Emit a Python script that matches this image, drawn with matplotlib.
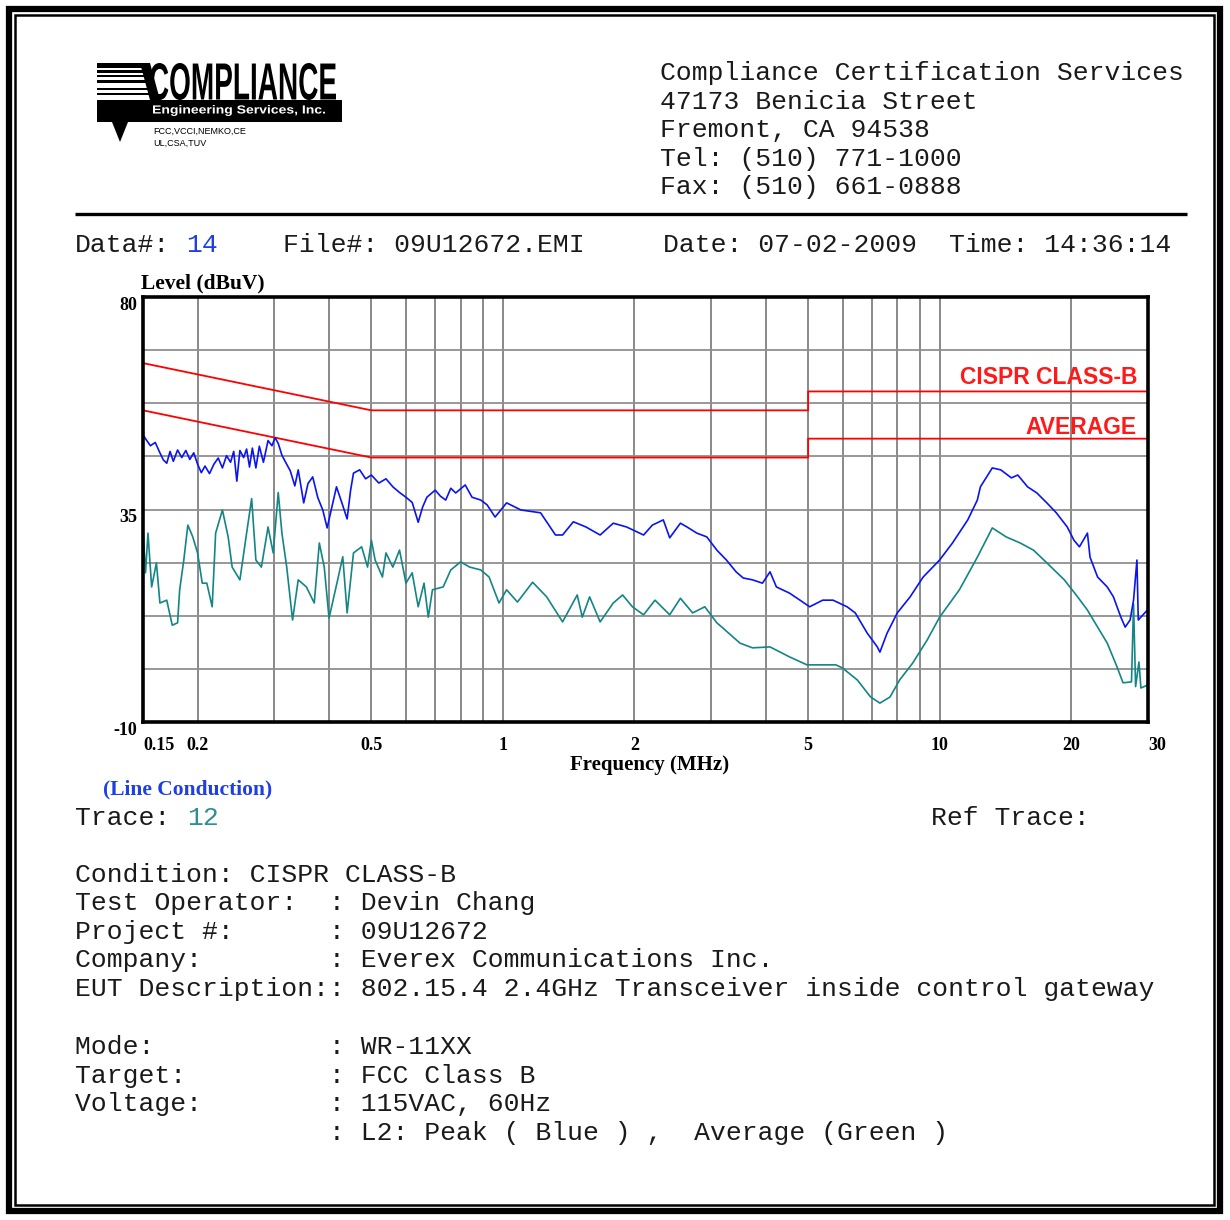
import matplotlib
matplotlib.use('Agg')
import matplotlib.pyplot as plt
from matplotlib.patches import Rectangle, Polygon, PathPatch
from matplotlib.textpath import TextPath
from matplotlib.font_manager import FontProperties
from matplotlib.transforms import Affine2D

# ---- data (MHz, dBuV) ----
peak_freq = [0.150, 0.153, 0.156, 0.160, 0.164, 0.167, 0.170, 0.173, 0.176, 0.180,
             0.184, 0.188, 0.192, 0.196, 0.200, 0.204, 0.208, 0.213, 0.218, 0.223,
             0.228, 0.233, 0.238, 0.242, 0.246, 0.250, 0.255, 0.259, 0.263, 0.267,
             0.272, 0.277, 0.283, 0.290, 0.296, 0.301, 0.306, 0.312, 0.319, 0.326,
             0.334, 0.340, 0.350, 0.358, 0.367, 0.377, 0.387, 0.396, 0.406, 0.416,
             0.428, 0.440, 0.448, 0.455, 0.470, 0.485, 0.500, 0.520, 0.540, 0.560,
             0.580, 0.600, 0.620, 0.640, 0.655, 0.670, 0.700, 0.720, 0.740, 0.760,
             0.780, 0.820, 0.850, 0.890, 0.920, 0.960, 1.02, 1.10, 1.22, 1.32,
             1.37, 1.45, 1.55, 1.67, 1.79, 1.92, 2.10, 2.20, 2.33, 2.41,
             2.55, 2.64, 2.78, 2.93, 3.09, 3.25, 3.42, 3.55, 3.73, 3.93,
             4.09, 4.23, 4.53, 4.79, 5.04, 5.40, 5.70, 6.14, 6.41, 6.83,
             7.20, 7.30, 7.58, 8.00, 8.56, 9.17, 10.0, 10.7, 11.6, 12.2,
             12.4, 13.2, 13.8, 14.6, 15.1, 15.9, 16.7, 17.6, 18.5, 19.6,
             20.3, 20.9, 21.8, 22.1, 23.0, 24.2, 25.0, 26.0, 26.6, 27.3,
             27.8, 28.3, 28.5, 29.9]
peak_level = [50.8, 49.6, 48.5, 49.2, 47.0, 45.5, 44.8, 47.3, 45.2, 47.6,
              46.0, 47.5, 45.6, 47.0, 44.6, 42.8, 44.2, 42.6, 44.6, 45.9,
              43.8, 46.4, 45.0, 47.3, 41.0, 47.5, 46.0, 47.8, 44.0, 48.0,
              43.8, 48.4, 45.0, 49.6, 48.5, 50.2, 49.0, 46.5, 44.8, 43.2,
              40.0, 43.4, 36.4, 40.5, 41.9, 37.5, 34.9, 31.1, 35.5, 39.8,
              36.4, 33.0, 39.0, 42.7, 43.4, 41.5, 42.3, 40.6, 41.5, 39.8,
              38.6, 37.6, 36.5, 32.3, 35.5, 37.6, 39.1, 37.8, 37.0, 39.5,
              38.5, 40.2, 37.6, 37.0, 36.0, 33.4, 36.4, 34.9, 34.3, 29.6,
              29.6, 32.4, 31.3, 29.6, 32.1, 31.3, 29.6, 31.7, 32.8, 29.0,
              32.1, 31.3, 30.0, 29.2, 26.4, 24.3, 21.8, 20.5, 20.1, 19.4,
              21.8, 18.6, 17.3, 15.8, 14.4, 15.8, 15.8, 14.4, 13.1, 8.8,
              5.9, 4.8, 8.8, 13.1, 16.5, 20.7, 24.3, 27.9, 32.8, 37.0,
              39.8, 43.8, 43.4, 41.7, 42.3, 39.8, 38.5, 36.4, 34.3, 31.3,
              28.5, 27.1, 30.0, 24.9, 20.7, 18.6, 16.5, 12.2, 10.1, 11.6,
              15.8, 24.3, 11.6, 13.7]

avg_freq = [0.150, 0.152, 0.154, 0.157, 0.161, 0.164, 0.170, 0.175, 0.180, 0.182,
            0.186, 0.190, 0.195, 0.200, 0.205, 0.210, 0.216, 0.220, 0.228, 0.235,
            0.240, 0.250, 0.259, 0.266, 0.272, 0.280, 0.290, 0.298, 0.306, 0.312,
            0.320, 0.330, 0.340, 0.355, 0.370, 0.380, 0.390, 0.400, 0.420, 0.430,
            0.440, 0.455, 0.475, 0.490, 0.500, 0.510, 0.530, 0.540, 0.560, 0.580,
            0.600, 0.620, 0.640, 0.660, 0.675, 0.690, 0.730, 0.760, 0.800, 0.840,
            0.890, 0.930, 0.980, 1.02, 1.08, 1.17, 1.26, 1.37, 1.48, 1.52,
            1.58, 1.67, 1.79, 1.88, 1.98, 2.10, 2.23, 2.41, 2.55, 2.72,
            2.90, 3.09, 3.19, 3.49, 3.73, 4.09, 4.53, 4.97, 5.79, 6.00,
            6.48, 6.95, 7.30, 7.70, 8.10, 8.68, 9.37, 10.0, 11.1, 12.2,
            13.2, 14.2, 15.3, 16.4, 17.6, 19.3, 20.7, 21.8, 23.0, 24.2,
            25.5, 26.3, 27.5, 27.8, 28.1, 28.6, 28.9, 29.9]
avg_level = [30.7, 21.6, 30.0, 18.6, 23.7, 15.2, 15.8, 10.5, 11.0, 18.0,
             24.3, 31.7, 29.2, 25.8, 19.4, 19.4, 14.4, 30.0, 34.9, 29.2,
             22.8, 20.1, 30.0, 37.3, 24.3, 22.8, 31.3, 25.8, 38.6, 30.0,
             22.8, 11.6, 20.1, 18.6, 15.2, 27.9, 22.8, 12.0, 20.7, 25.0,
             13.1, 25.8, 27.1, 22.8, 28.5, 24.3, 20.7, 25.8, 22.8, 26.4,
             19.4, 21.6, 14.4, 19.4, 12.2, 18.0, 18.6, 22.2, 23.9, 22.8,
             22.2, 20.7, 15.2, 18.0, 15.4, 19.6, 16.5, 11.2, 16.9, 12.2,
             16.5, 11.2, 15.2, 16.9, 14.4, 12.7, 15.8, 12.7, 16.2, 13.1,
             14.4, 11.0, 9.9, 6.7, 5.7, 5.9, 3.8, 2.1, 2.1, 1.4,
             -1.1, -4.7, -6.0, -4.7, -1.1, 2.5, 7.4, 12.2, 18.0, 24.9,
             31.1, 29.2, 27.9, 26.4, 23.7, 20.1, 16.5, 13.7, 10.1, 6.7,
             1.6, -1.7, -1.5, 15.0, -2.5, 2.7, -2.8, -2.2]

# CISPR 22 class B limits
qp_freq = [0.15, 0.5, 5.0, 5.0, 30.0]
qp_limit = [66, 56, 56, 60, 60]
av_freq = [0.15, 0.5, 5.0, 5.0, 30.0]
av_limit = [56, 46, 46, 50, 50]

freq_ticks = [0.15, 0.2, 0.5, 1, 2, 5, 10, 20, 30]
freq_labels = ['0.15', '0.2', '0.5', '1', '2', '5', '10', '20', '30']
freq_grid = [0.2, 0.3, 0.4, 0.5, 0.6, 0.7, 0.8, 0.9, 1, 2, 3, 4, 5, 6, 7, 8, 9, 10, 20]
level_grid = [-10, 1.25, 12.5, 23.75, 35, 46.25, 57.5, 68.75, 80]
level_ticks = [-10, 35, 80]

header = ['Compliance Certification Services', '47173 Benicia Street',
          'Fremont, CA 94538', 'Tel: (510) 771-1000', 'Fax: (510) 661-0888']
info1 = [('Test Operator:', 'Devin Chang'), ('Project #:', '09U12672'),
         ('Company:', 'Everex Communications Inc.'),
         ('EUT Description:', '802.15.4 2.4GHz Transceiver inside control gateway')]
info2 = [('Mode:', 'WR-11XX'), ('Target:', 'FCC Class B'), ('Voltage:', '115VAC, 60Hz'),
         ('', 'L2: Peak ( Blue ) ,  Average (Green )')]

W, H = 1230, 1220
fig = plt.figure(figsize=(W / 100, H / 100), dpi=100)

# page layer in pixel coords (y down)
bg = fig.add_axes([0, 0, 1, 1])
bg.set_xlim(0, W)
bg.set_ylim(H, 0)
bg.axis('off')

bg.add_patch(Rectangle((9, 9), W - 19, H - 18, fill=False, lw=4.5, ec='black'))
bg.add_patch(Rectangle((15, 15), W - 31, H - 30, fill=False, lw=1.8, ec='black'))
bg.plot([75, 1187], [214, 214], color='black', lw=2.4, solid_capstyle='butt')

mono = 'Liberation Mono'
fs = 19
txt = '#1a1a1a'
serif = 'Liberation Serif'

# logo
for y0, y1 in [(63, 68), (70, 72.5), (75, 77), (80, 82.5), (88, 90), (93, 95)]:
    bg.add_patch(Rectangle((97, y0), 52, y1 - y0, color='black', lw=0))
bg.add_patch(Polygon([(140, 63), (150, 63), (160, 100), (150, 100)], color='black', lw=0))
bg.add_patch(Rectangle((97, 100), 245, 22, color='black', lw=0))
bg.add_patch(Polygon([(112, 122), (128, 122), (120, 142)], color='black', lw=0))
tp = TextPath((0, 0), 'COMPLIANCE', size=1, prop=FontProperties(family='Liberation Sans', weight='bold'))
ext = tp.get_extents()
tr = Affine2D().translate(-ext.x0, -ext.y0).scale(186 / ext.width, -37 / ext.height).translate(150, 100)
bg.add_patch(PathPatch(tr.transform_path(tp), color='black', lw=0))
tp2 = TextPath((0, 0), 'Engineering Services, Inc.', size=1, prop=FontProperties(family='Liberation Sans', weight='bold'))
ext2 = tp2.get_extents()
tr2 = Affine2D().translate(-ext2.x0, -ext2.y0).scale(172 / ext2.width, -11 / ext2.height).translate(153, 116)
bg.add_patch(PathPatch(tr2.transform_path(tp2), color='white', lw=0))
bg.text(153, 131, 'FCC,VCCI,NEMKO,CE', fontsize=6.5, family='Liberation Sans', va='center')
bg.text(153, 143, 'UL,CSA,TUV', fontsize=6.5, family='Liberation Sans', va='center')

for i, line in enumerate(header):
    bg.text(660, 73 + i * 28.6, line, family=mono, fontsize=fs, va='center', color=txt)

bg.text(75, 245, 'Data#:', family=mono, fontsize=fs, va='center', color=txt)
bg.text(186, 245, '14', family=mono, fontsize=fs, va='center', color='#1f3fe0')
bg.text(283, 245, 'File#: 09U12672.EMI', family=mono, fontsize=fs, va='center', color=txt)
bg.text(663, 245, 'Date: 07-02-2009', family=mono, fontsize=fs, va='center', color=txt)
bg.text(949, 245, 'Time: 14:36:14', family=mono, fontsize=fs, va='center', color=txt)

bg.text(141, 283, 'Level (dBuV)', family=serif, weight='bold', fontsize=15.5, va='center')
bg.text(650, 765, 'Frequency (MHz)', family=serif, weight='bold', fontsize=15,
        va='center', ha='center')
bg.text(103, 789, '(Line Conduction)', family=serif, weight='bold', fontsize=15.5,
        va='center', color='#1f3fe0')

bg.text(75, 818, 'Trace:', family=mono, fontsize=fs, va='center', color=txt)
bg.text(187, 818, '12', family=mono, fontsize=fs, va='center', color='#2a9090')
bg.text(931, 818, 'Ref Trace:', family=mono, fontsize=fs, va='center', color=txt)
bg.text(75, 875, 'Condition: CISPR CLASS-B', family=mono, fontsize=fs, va='center', color=txt)
for i, (k, v) in enumerate(info1):
    bg.text(75, 903 + i * 28.6, f'{k:<16}: {v}', family=mono, fontsize=fs, va='center', color=txt)
for i, (k, v) in enumerate(info2):
    bg.text(75, 1047 + i * 28.6, f'{k:<16}: {v}', family=mono, fontsize=fs, va='center', color=txt)

# chart
ax = fig.add_axes([143 / W, 1 - 722 / H, (1148 - 143) / W, (722 - 297) / H])
ax.set_xscale('log')
ax.set_xlim(0.15, 30)
ax.set_ylim(-10, 80)
for v in freq_grid:
    ax.axvline(v, color='#808080', lw=1.3, zorder=1)
for v in level_grid:
    ax.axhline(v, color='#909090', lw=1.3, zorder=1)

ax.plot(qp_freq, qp_limit, color='#ff0000', lw=1.3, zorder=3)
ax.plot(av_freq, av_limit, color='#ff0000', lw=1.3, zorder=3)
ax.plot(avg_freq, avg_level, color='#138585', lw=1.2, zorder=4)
ax.plot(peak_freq, peak_level, color='#0a14f0', lw=1.2, zorder=5)

ax.text(1137, 378, 'CISPR CLASS-B', family='Liberation Sans', weight='bold', fontsize=16.5,
        color='#ff1a1a', ha='right', va='center', transform=bg.transData, zorder=7)
ax.text(1137, 427, 'AVERAGE', family='Liberation Sans', weight='bold', fontsize=16.5,
        color='#ff1a1a', ha='right', va='center', transform=bg.transData, zorder=7)

ax.set_xticks(freq_ticks)
ax.set_xticklabels(freq_labels)
ax.xaxis.set_minor_locator(matplotlib.ticker.NullLocator())
ax.set_yticks(level_ticks)
ax.set_yticklabels([str(v) for v in level_ticks])
ax.tick_params(length=0, labelsize=13, pad=11)
ax.tick_params(axis='y', pad=4)
for lab in ax.get_xticklabels() + ax.get_yticklabels():
    lab.set_fontfamily(serif)
    lab.set_fontweight('bold')
xl = ax.get_xticklabels()
xl[0].set_horizontalalignment('left')
xl[-1].set_horizontalalignment('left')
for lab in ax.get_yticklabels():
    lab.set_verticalalignment('top')
for s in ax.spines.values():
    s.set_linewidth(2.6)
    s.set_zorder(6)

fig.savefig('out.png', dpi=100)
